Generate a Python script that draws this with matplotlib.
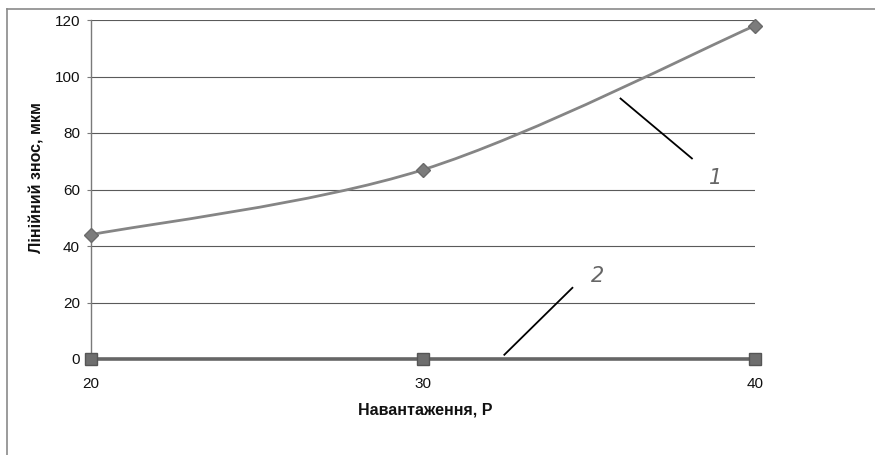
"""Linear wear vs load: smoothed curve for sample 1, flat line for sample 2."""

import matplotlib
matplotlib.use("Agg")

import matplotlib.pyplot as plt
from matplotlib.lines import Line2D
from matplotlib.path import Path
from matplotlib.patches import PathPatch

plt.rcParams["font.family"] = ["Liberation Sans", "DejaVu Sans"]

# load P and measured linear wear, um
load = [20, 30, 40]
wear_1 = [44, 67, 118]
wear_2 = [0, 0, 0]

y_ticks = [0, 20, 40, 60, 80, 100, 120]
x_ticks = [20, 30, 40]

# leader lines for the curve numbers: (text, text_xy, line_start, line_end)
labels = [
    ("1", (38.6, 64.0), (35.95, 92.2), (38.1, 71.0)),
    ("2", (35.05, 29.5), (32.45, 1.5), (34.5, 25.2)),
]


def smooth_path(xs, ys):
    """Catmull-Rom style Bezier path through the points (Excel 'smoothed line')."""
    pts = list(zip(xs, ys))
    ext = [pts[0]] + pts + [pts[-1]]
    verts = [pts[0]]
    codes = [Path.MOVETO]
    for i in range(1, len(ext) - 2):
        p0, p1, p2, p3 = ext[i - 1], ext[i], ext[i + 1], ext[i + 2]
        c1 = (p1[0] + (p2[0] - p0[0]) / 6, p1[1] + (p2[1] - p0[1]) / 6)
        c2 = (p2[0] - (p3[0] - p1[0]) / 6, p2[1] - (p3[1] - p1[1]) / 6)
        verts += [c1, c2, p2]
        codes += [Path.CURVE4] * 3
    return Path(verts, codes)


fig = plt.figure(figsize=(8.75, 4.55), dpi=100)
ax = fig.add_axes([91 / 875, 1 - 359 / 455, 664 / 875, 339 / 455])

ax.set_xlim(20, 40)
ax.set_ylim(0, 120)
ax.set_yticks(y_ticks)
ax.set_xticks(x_ticks)
ax.grid(axis="y", color="#5a5a5a", lw=0.8)
ax.set_axisbelow(True)
for side in ("top", "right", "bottom"):
    ax.spines[side].set_visible(False)
ax.spines["left"].set_color("#7a7a7a")
ax.spines["left"].set_linewidth(1.0)
ax.tick_params(axis="y", length=3, width=0.8, color="#7a7a7a", pad=5,
               labelsize=11, labelcolor="#111111")
ax.tick_params(axis="x", length=0, pad=13, labelsize=11, labelcolor="#111111")

# curve 1: smoothed line with diamond markers
ax.add_patch(PathPatch(smooth_path(load, wear_1), fill=False,
                       edgecolor="#858585", lw=2.0, zorder=3, clip_on=False))
ax.plot(load, wear_1, ls="none", marker="D", ms=7.5, color="#7c7c7c",
        mec="#6a6a6a", zorder=4, clip_on=False)

# curve 2: flat line with square markers
ax.plot(load, wear_2, color="#666666", lw=2.6, marker="s", ms=9,
        mfc="#6e6e6e", mec="#555555", zorder=4, clip_on=False)

for text, txy, p0, p1 in labels:
    ax.plot([p0[0], p1[0]], [p0[1], p1[1]], color="black", lw=1.3,
            zorder=5, clip_on=False)
    ax.text(txy[0], txy[1], text, fontsize=15, style="italic",
            family=["DejaVu Sans"], fontweight="light", color="#666666",
            ha="left", va="center", zorder=5)

fig.text(425 / 875, 1 - 410 / 455, "Навантаження, Р", fontsize=11.5,
         fontweight="bold", ha="center", va="center", color="#111111")
fig.text(37 / 875, 1 - 178 / 455, "Лінійний знос, мкм", fontsize=11.5,
         fontweight="bold", rotation=90, ha="center", va="center",
         color="#111111")

# chart-area frame (left and top edges)
fig.add_artist(Line2D([6.5 / 875, 6.5 / 875], [0, 1 - 9 / 455],
                      color="#8a8a8a", lw=1.2, transform=fig.transFigure))
fig.add_artist(Line2D([6.5 / 875, 1], [1 - 9 / 455, 1 - 9 / 455],
                      color="#8a8a8a", lw=1.2, transform=fig.transFigure))

fig.savefig("out.png", dpi=100)
